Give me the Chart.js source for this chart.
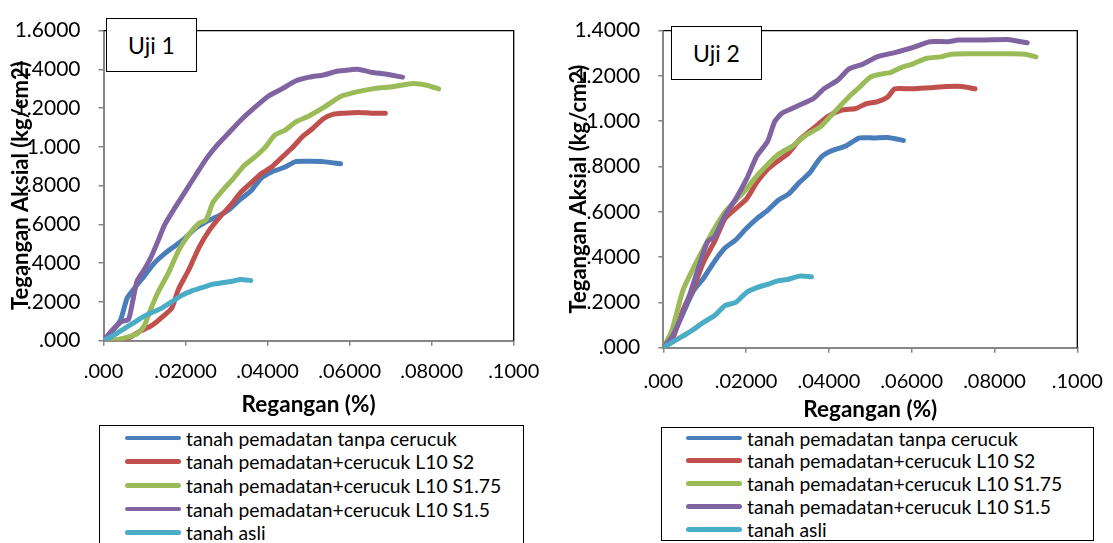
<!DOCTYPE html>
<html>
<head>
<meta charset="utf-8">
<script src="https://cdn.jsdelivr.net/npm/chart.js@4.4.1/dist/chart.umd.min.js"></script>
<style>
  body { margin: 0; background: #fff; width: 1113px; height: 543px; overflow: hidden; position: relative; font-family: Lato, sans-serif; }
  canvas, .uji, .legend { position: absolute; }
  .uji { border: 1.3px solid #000; background: #fff; font-size: 23px; box-sizing: border-box;
         display: flex; align-items: center; justify-content: center; color: #000; }
  .legend { border: 1.5px solid #000; box-sizing: border-box; font-size: 19.3px; color: #000; background: #fff; }
  .legend .item { position: absolute; white-space: nowrap; display: flex; align-items: center; height: 22px; }
  .legend .swatch { display: inline-block; width: 56px; height: 4.8px; border-radius: 3px; margin-right: 5px; }
</style>
</head>
<body>
<canvas id="c1" width="545" height="420" style="left:0;top:0"></canvas>
<canvas id="c2" width="553" height="430" style="left:560px;top:0"></canvas>
<div class="uji" style="left:106px;top:18px;width:91px;height:54px">Uji 1</div>
<div class="uji" style="left:671px;top:26px;width:91px;height:54px">Uji 2</div>
<div class="legend" id="leg1" style="left:99px;top:425px;width:425px;height:130px"></div>
<div class="legend" id="leg2" style="left:661px;top:427px;width:433px;height:114px"></div>
<script>
// series names and colours (Excel default palette)
const seriesNames = [
  'tanah pemadatan tanpa cerucuk',
  'tanah pemadatan+cerucuk L10 S2',
  'tanah pemadatan+cerucuk L10 S1.75',
  'tanah pemadatan+cerucuk L10 S1.5',
  'tanah asli'
];
const seriesColors = ['#4a7ebb', '#c0504d', '#9bbb59', '#8064a2', '#4bacc6'];

// tick labels as printed in the figure
const xTickLabels = ['.000', '.02000', '.04000', '.06000', '.08000', '.1000'];
const yTickLabels1 = ['.000', '.2000', '.4000', '.6000', '.8000', '1.000', '1.2000', '1.4000', '1.6000'];
const yTickLabels2 = ['.000', '.2000', '.4000', '.6000', '.8000', '1.000', '1.2000', '1.4000'];

// Uji 1 : [regangan, tegangan]
const uji1Tanpa = [[0,0],[0.004,0.10],[0.0057,0.217],[0.0074,0.267],[0.0099,0.333],[0.0124,0.40],[0.0149,0.449],[0.0175,0.49],[0.02,0.532],[0.0225,0.581],[0.025,0.614],[0.0284,0.648],[0.0309,0.681],[0.0334,0.73],[0.0359,0.772],[0.0384,0.838],[0.041,0.871],[0.0443,0.896],[0.0468,0.924],[0.0502,0.926],[0.0536,0.924],[0.0578,0.913]];
const uji1S2 = [[0,0],[0.0035,0.004],[0.0065,0.018],[0.0091,0.051],[0.0116,0.076],[0.0141,0.118],[0.0166,0.167],[0.0183,0.267],[0.0208,0.366],[0.0233,0.482],[0.0259,0.573],[0.0284,0.639],[0.0309,0.697],[0.0334,0.764],[0.0359,0.813],[0.0385,0.863],[0.041,0.896],[0.0435,0.946],[0.046,0.995],[0.0485,1.053],[0.051,1.095],[0.0536,1.145],[0.0561,1.169],[0.0586,1.174],[0.062,1.178],[0.0653,1.174],[0.0687,1.174]];
const uji1S175 = [[0,0],[0.0024,0.002],[0.0049,0.013],[0.0082,0.035],[0.0099,0.076],[0.0116,0.167],[0.0133,0.25],[0.0158,0.349],[0.0183,0.465],[0.0208,0.548],[0.0233,0.606],[0.025,0.623],[0.0267,0.714],[0.0292,0.78],[0.0317,0.838],[0.0343,0.904],[0.0368,0.946],[0.0393,0.995],[0.0418,1.062],[0.0443,1.087],[0.0468,1.128],[0.0502,1.161],[0.0536,1.202],[0.0578,1.26],[0.062,1.285],[0.0662,1.302],[0.0704,1.31],[0.0754,1.327],[0.0788,1.318],[0.0817,1.299]];
const uji1S15 = [[0,0],[0.0024,0.06],[0.0045,0.10],[0.0061,0.109],[0.0074,0.234],[0.0082,0.308],[0.0099,0.366],[0.0116,0.432],[0.0133,0.515],[0.0149,0.598],[0.0175,0.689],[0.02,0.772],[0.0225,0.855],[0.025,0.937],[0.0275,1.004],[0.0301,1.062],[0.0334,1.136],[0.0368,1.202],[0.0401,1.26],[0.0435,1.299],[0.0468,1.34],[0.0502,1.36],[0.0536,1.371],[0.0569,1.39],[0.0603,1.398],[0.062,1.401],[0.0653,1.385],[0.0687,1.376],[0.0729,1.36]];
const uji1Asli = [[0,0],[0.0024,0.027],[0.0049,0.06],[0.0074,0.093],[0.0099,0.126],[0.0124,0.151],[0.0141,0.167],[0.0166,0.20],[0.0191,0.234],[0.0217,0.258],[0.0242,0.275],[0.0267,0.292],[0.0292,0.30],[0.0317,0.308],[0.0334,0.316],[0.0359,0.311]];

// Uji 2
const uji2Tanpa = [[0,0],[0.0021,0.048],[0.0047,0.149],[0.0073,0.251],[0.0098,0.309],[0.0124,0.382],[0.0149,0.44],[0.0175,0.476],[0.0201,0.527],[0.0226,0.57],[0.0252,0.606],[0.0277,0.65],[0.0303,0.679],[0.0329,0.73],[0.0354,0.773],[0.038,0.839],[0.0405,0.868],[0.0439,0.889],[0.0474,0.926],[0.0508,0.926],[0.0542,0.928],[0.058,0.915]];
const uji2S2 = [[0,0],[0.0021,0.033],[0.0047,0.164],[0.0073,0.265],[0.0098,0.382],[0.0124,0.469],[0.0149,0.57],[0.0175,0.614],[0.0201,0.657],[0.0226,0.73],[0.0252,0.788],[0.0277,0.824],[0.0303,0.86],[0.0329,0.918],[0.0363,0.969],[0.0397,1.02],[0.0431,1.049],[0.0465,1.056],[0.0491,1.078],[0.0516,1.085],[0.0542,1.107],[0.0559,1.143],[0.0602,1.143],[0.0644,1.148],[0.0687,1.153],[0.0721,1.153],[0.0753,1.143]];
const uji2S175 = [[0,0],[0.0021,0.077],[0.0047,0.251],[0.0073,0.353],[0.0098,0.44],[0.0124,0.527],[0.0149,0.599],[0.0175,0.65],[0.0201,0.701],[0.0226,0.759],[0.0252,0.809],[0.0277,0.853],[0.0311,0.889],[0.0346,0.94],[0.038,0.976],[0.0414,1.042],[0.0448,1.107],[0.0474,1.15],[0.0499,1.194],[0.0525,1.208],[0.055,1.216],[0.0576,1.238],[0.0602,1.252],[0.0636,1.278],[0.067,1.284],[0.0695,1.296],[0.0738,1.298],[0.0789,1.298],[0.084,1.298],[0.0875,1.296],[0.09,1.284]];
const uji2S15 = [[0,0],[0.0021,0.048],[0.0043,0.135],[0.0064,0.236],[0.0085,0.353],[0.0107,0.469],[0.0124,0.49],[0.0149,0.585],[0.0175,0.657],[0.0201,0.744],[0.0226,0.846],[0.0252,0.911],[0.0269,0.998],[0.0286,1.034],[0.0311,1.056],[0.0337,1.078],[0.0363,1.1],[0.0388,1.143],[0.0422,1.182],[0.0448,1.23],[0.0482,1.252],[0.0516,1.284],[0.0559,1.303],[0.0602,1.325],[0.0644,1.351],[0.0687,1.351],[0.0712,1.358],[0.0772,1.358],[0.0832,1.361],[0.0879,1.346]];
const uji2Asli = [[0,0],[0.003,0.033],[0.0064,0.07],[0.0098,0.113],[0.0124,0.142],[0.0149,0.186],[0.0175,0.2],[0.0201,0.244],[0.0226,0.265],[0.0252,0.28],[0.0277,0.295],[0.0303,0.302],[0.0329,0.316],[0.0358,0.313]];

const yTitle = 'Tegangan Aksial (kg/cm2)';
const xTitle = 'Regangan (%)';

// top + right border of the plot area
const plotFrame = {
  id: 'plotFrame',
  afterDatasetsDraw(chart) {
    const { ctx, chartArea: a } = chart;
    ctx.save();
    ctx.strokeStyle = '#000';
    ctx.lineWidth = 1.3;
    ctx.beginPath();
    ctx.moveTo(a.left, a.top);
    ctx.lineTo(a.right, a.top);
    ctx.lineTo(a.right, a.bottom);
    ctx.stroke();
    ctx.restore();
  }
};

function makeChart(id, series, yMax, yLabels, g) {
  const datasets = series.map((pts, i) => ({
    label: seriesNames[i],
    data: pts.map(p => ({ x: p[0], y: p[1] })),
    borderColor: seriesColors[i],
    backgroundColor: seriesColors[i],
    borderWidth: 5,
    borderCapStyle: 'round',
    borderJoinStyle: 'round',
    pointRadius: 0,
    tension: 0.2,
    showLine: true,
    order: series.length - i
  }));

  return new Chart(document.getElementById(id), {
    type: 'scatter',
    data: { datasets: datasets },
    options: {
      responsive: false,
      animation: false,
      layout: { padding: { left: 0, top: g.top, right: g.right, bottom: 0 } },
      plugins: { legend: { display: false }, tooltip: { enabled: false } },
      scales: {
        x: {
          type: 'linear', min: 0, max: 0.1,
          // fixed axis band; the end labels may overhang the plot edge
          afterFit: s => { s.height = g.xHeight; s.paddingLeft = 0; s.paddingRight = 0; },
          grid: { drawOnChartArea: false, drawTicks: true, tickLength: 5, color: '#868686', lineWidth: 1.5 },
          border: { color: '#868686', width: 2 },
          ticks: {
            stepSize: 0.02, padding: g.xPad, color: '#000', maxRotation: 0,
            font: { family: 'Lato', size: 20 },
            callback: (v, i) => xTickLabels[i]
          },
          title: { display: true, text: xTitle, color: '#000',
                   font: { family: 'Lato', size: 22.5, weight: 'bold' },
                   padding: { top: 0, bottom: g.xTitlePad } }
        },
        y: {
          type: 'linear', min: 0, max: yMax,
          afterFit: s => { s.width = g.yWidth; },
          grid: { drawOnChartArea: false, drawTicks: true, tickLength: 5, color: '#868686', lineWidth: 1.5 },
          border: { color: '#868686', width: 2 },
          ticks: {
            stepSize: 0.2, padding: g.yPad, color: '#000',
            font: { family: 'Lato', size: 21 },
            callback: (v, i) => yLabels[i]
          },
          title: { display: true, text: yTitle, color: '#000',
                   font: { family: 'Lato', size: 22, weight: 'bold' },
                   padding: { top: g.yTitlePad, bottom: 0 } }
        }
      }
    },
    plugins: [plotFrame]
  });
}

makeChart('c1', [uji1Tanpa, uji1S2, uji1S175, uji1S15, uji1Asli], 1.6, yTickLabels1,
  { top: 18.3, right: 31.3, yWidth: 103.5, xHeight: 79.3, xPad: 14, xTitlePad: 1.5, yTitlePad: 7.5, yPad: 18 });
makeChart('c2', [uji2Tanpa, uji2S2, uji2S175, uji2S15, uji2Asli], 1.4, yTickLabels2,
  { top: 26, right: 35.7, yWidth: 103.3, xHeight: 82.3, xPad: 16.5, xTitlePad: 6.5, yTitlePad: 5.5, yPad: 18 });

// legend boxes built from the same names / colours
function makeLegend(id, left, top, step) {
  const box = document.getElementById(id);
  seriesNames.forEach((name, i) => {
    const item = document.createElement('div');
    item.className = 'item';
    item.style.left = left + 'px';
    item.style.top = (top + i * step - 11) + 'px';
    const sw = document.createElement('span');
    sw.className = 'swatch';
    sw.style.background = seriesColors[i];
    item.appendChild(sw);
    item.appendChild(document.createTextNode(name));
    box.appendChild(item);
  });
}
makeLegend('leg1', 25, 12, 23.7);
makeLegend('leg2', 24, 10, 22.8);
</script>
</body>
</html>
